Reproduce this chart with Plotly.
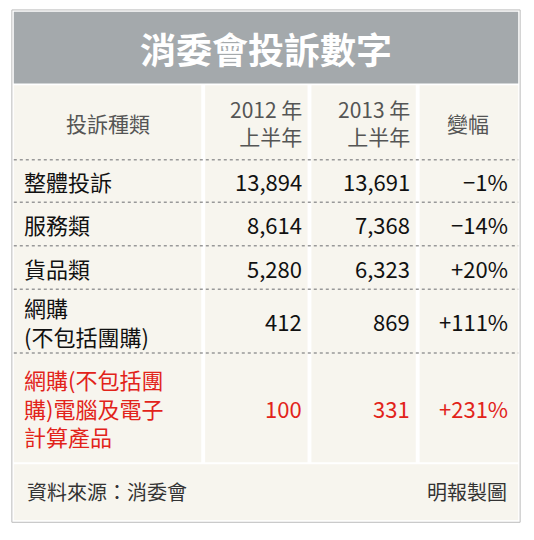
import plotly.graph_objects as go

title = "消委會投訴數字"
headers = ["投訴種類", "2012 年<br>上半年", "2013 年<br>上半年", "變幅"]
categories = ["整體投訴", "服務類", "貨品類", "網購<br>(不包括團購)",
              "網購(不包括團<br>購)電腦及電子<br>計算產品"]
h1_2012 = ["13,894", "8,614", "5,280", "412", "100"]
h1_2013 = ["13,691", "7,368", "6,323", "869", "331"]
change = ["−1%", "−14%", "+20%", "+111%", "+231%"]
source = "資料來源：消委會"
credit = "明報製圖"

W, H = 534, 540
FONT = "Noto Sans CJK TC"
col_x = [6, 202, 312, 424, 528]
row_y = [80, 157, 201, 246, 291, 357, 470]
cream = "#f7f5ee"

fig = go.Figure()
shapes = []
ann = []

# frame + title bar
shapes.append(dict(type="rect", x0=4, x1=530, y0=2, y1=532, line=dict(color="#bbbbbb", width=1), fillcolor="white"))
shapes.append(dict(type="rect", x0=6, x1=528, y0=4, y1=78, line_width=0, fillcolor="#a4a9ac"))
ann.append(dict(x=267, y=41, text="<b>" + title + "</b>", font=dict(size=36, color="white", family=FONT), showarrow=False))

# cells
for c in range(4):
    shapes.append(dict(type="rect", x0=col_x[c] + (0 if c == 0 else 2), x1=col_x[c + 1] - (0 if c == 3 else 2),
                       y0=row_y[0], y1=row_y[-1], line_width=0, fillcolor=cream))
for y in row_y[1:-1]:
    shapes.append(dict(type="line", x0=6, x1=528, y0=y, y1=y, line=dict(color="#999999", width=1.5, dash="dot")))

# footer
shapes.append(dict(type="rect", x0=6, x1=528, y0=row_y[-1] + 2, y1=530, line_width=0, fillcolor=cream))
ann.append(dict(x=18, y=500, text=source, xanchor="left", font=dict(size=20, color="#333", family=FONT), showarrow=False))
ann.append(dict(x=518, y=500, text=credit, xanchor="right", font=dict(size=20, color="#333", family=FONT), showarrow=False))

# header
hy = (row_y[0] + row_y[1]) / 2
hf = dict(size=21, color="#555", family=FONT)
ann.append(dict(x=(col_x[0] + col_x[1]) / 2, y=hy, text=headers[0], font=hf, showarrow=False))
for c in (1, 2):
    ann.append(dict(x=col_x[c + 1] - 6, y=hy, text=headers[c], xanchor="right", align="right",
                    font=hf, showarrow=False))
ann.append(dict(x=(col_x[3] + col_x[4]) / 2, y=hy, text=headers[3], font=hf, showarrow=False))

# body
for i in range(len(categories)):
    y = (row_y[i + 1] + row_y[i + 2]) / 2
    col = "#e2231a" if i == len(categories) - 1 else "#111111"
    f = dict(size=22, color=col, family=FONT)
    ann.append(dict(x=14, y=y, text=categories[i], xanchor="left", align="left", font=f, showarrow=False))
    ann.append(dict(x=col_x[2] - 6, y=y, text=h1_2012[i], xanchor="right", font=f, showarrow=False))
    ann.append(dict(x=col_x[3] - 6, y=y, text=h1_2013[i], xanchor="right", font=f, showarrow=False))
    ann.append(dict(x=col_x[4] - 8, y=y, text=change[i], xanchor="right", font=f, showarrow=False))

# slightly smaller than the window so the page does not scroll or clip
fig.update_layout(width=516, height=522, margin=dict(l=0, r=0, t=0, b=0),
                  paper_bgcolor="white", plot_bgcolor="white", shapes=shapes, annotations=ann,
                  xaxis=dict(range=[0, W], visible=False, fixedrange=True),
                  yaxis=dict(range=[H, 0], visible=False, fixedrange=True), showlegend=False)
fig.write_html("out.html")
